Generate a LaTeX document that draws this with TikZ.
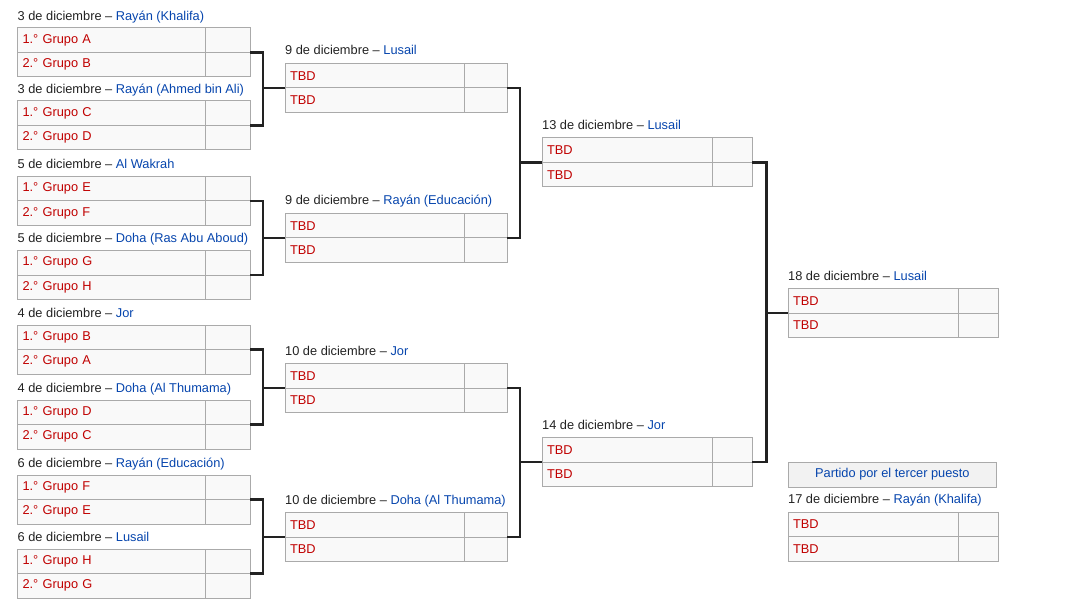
\documentclass[tikz,border=0pt]{standalone}
\usepackage{fontspec}
\setmainfont{Liberation Sans}
\usepackage{xcolor}
\usetikzlibrary{positioning}
\definecolor{teamred}{HTML}{C00000}
\definecolor{linkblue}{HTML}{0645AD}
\definecolor{cellgray}{HTML}{AAAAAA}
\definecolor{cellfill}{HTML}{F9F9F9}
\definecolor{headfill}{HTML}{F2F2F2}
\definecolor{textdark}{HTML}{222222}

\begin{document}
\begin{tikzpicture}[
  x=1pt, y=-1pt,
  every node/.style={font=\fontsize{12.8}{15}\selectfont},
  teamcell/.style={draw=cellgray, fill=cellfill, text=teamred, line width=1pt, outer sep=0pt,
                   minimum height=24.5pt, inner xsep=5pt, inner ysep=0pt, align=left},
  scorecell/.style={draw=cellgray, fill=cellfill, line width=1pt, outer sep=0pt,
                    minimum height=24.5pt, inner sep=0pt},
  fecha/.style={text=textdark, anchor=base west, inner sep=0pt},
  cabecera/.style={draw=cellgray, fill=headfill, text=linkblue, line width=1pt, outer sep=0pt,
                   minimum width=208.7pt, minimum height=25pt, inner sep=0pt, anchor=north west},
  llave/.style={draw=textdark, line width=2.8pt},
]
\useasboundingbox (0,0) rectangle (1067,612);

% octavos de final
\foreach \partido/\ya/\dia/\sede/\eqa/\eqb in {
  O1/28/3/Rayán (Khalifa)/1.° Grupo A/2.° Grupo B,
  O2/101/3/Rayán (Ahmed bin Ali)/1.° Grupo C/2.° Grupo D,
  O3/176.5/5/Al Wakrah/1.° Grupo E/2.° Grupo F,
  O4/250.5/5/Doha (Ras Abu Aboud)/1.° Grupo G/2.° Grupo H,
  O5/325/4/Jor/1.° Grupo B/2.° Grupo A,
  O6/400/4/Doha (Al Thumama)/1.° Grupo D/2.° Grupo C,
  O7/475/6/Rayán (Educación)/1.° Grupo F/2.° Grupo E,
  O8/549/6/Lusail/1.° Grupo H/2.° Grupo G
}{
  \node[teamcell, text width=177.5pt, anchor=north west] (\partido a) at (17.5,\ya) {\eqa};
  \node[scorecell, minimum width=45pt, right=0pt of \partido a] (\partido as) {};
  \node[teamcell, text width=177.5pt, below=0pt of \partido a] (\partido b) {\eqb};
  \node[scorecell, minimum width=45pt, right=0pt of \partido b] (\partido bs) {};
  \node[fecha, yshift=7.5pt] (\partido f) at (\partido a.north west)
    {\dia\ de diciembre – \textcolor{linkblue}{\sede}};
}

% cuartos, semifinales, final y tercer puesto
\foreach \partido/\xa/\ya/\ancho/\marca/\dia/\sede in {
  C1/285/63.5/169/43/9/Lusail,
  C2/285/213.5/169/43/9/Rayán (Educación),
  C3/285/363.5/169/43/10/Jor,
  C4/285/512.5/169/43/10/Doha (Al Thumama),
  S1/542/138/160/40/13/Lusail,
  S2/542/437.5/160/40/14/Jor,
  F/788/288.5/160/40/18/Lusail,
  T/788/512/160/40/17/Rayán (Khalifa)
}{
  \node[teamcell, text width=\ancho pt, anchor=north west] (\partido a) at (\xa,\ya) {TBD};
  \node[scorecell, minimum width=\marca pt, right=0pt of \partido a] (\partido as) {};
  \node[teamcell, text width=\ancho pt, below=0pt of \partido a] (\partido b) {TBD};
  \node[scorecell, minimum width=\marca pt, right=0pt of \partido b] (\partido bs) {};
  \node[fecha, yshift=8.5pt] (\partido f) at (\partido a.north west)
    {\dia\ de diciembre – \textcolor{linkblue}{\sede}};
}

\node[cabecera] (TP) at (788,462) {Partido por el tercer puesto};

% llaves
\foreach \i/\j/\k/\q/\dx in {O1/O2/k1/C1/13, O3/O4/k2/C2/13, O5/O6/k3/C3/13, O7/O8/k4/C4/13,
                             C1/C2/k5/S1/13, C3/C4/k6/S2/13, S1/S2/k7/F/14.5}{
  \draw[llave] (\i as.south east) -- ++(\dx,0) coordinate (\k) |- (\j as.south east);
  \draw[llave] (\q a.south west) -- (\q a.south west -| \k);
}

\end{tikzpicture}
\end{document}
